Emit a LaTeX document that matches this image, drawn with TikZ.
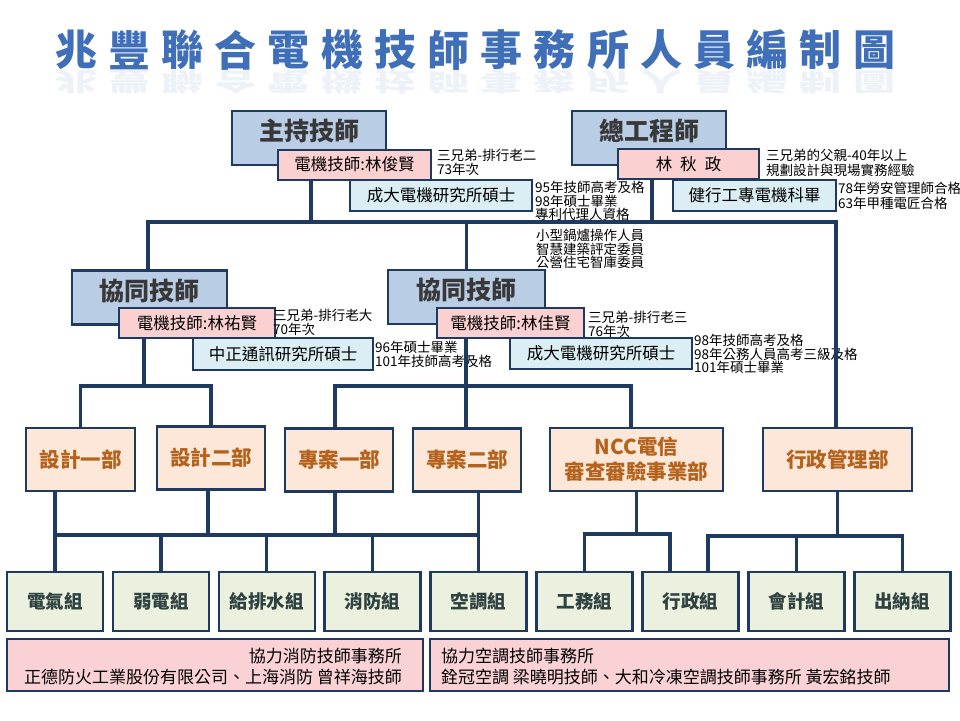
\documentclass[tikz,border=0pt]{standalone}
\usepackage{fontspec}
\setmainfont{Noto Sans CJK TC}
\definecolor{navy}{HTML}{1F3A60}
\definecolor{headfill}{HTML}{B9CDE5}
\definecolor{headtext}{HTML}{383838}
\definecolor{namefill}{HTML}{FAD0D0}
\definecolor{edufill}{HTML}{DAEEF3}
\definecolor{deptfill}{HTML}{FDE7D8}
\definecolor{depttext}{HTML}{B4621C}
\definecolor{grpfill}{HTML}{EBF1DE}
\definecolor{grptext}{HTML}{2F4242}
\definecolor{allyfill}{HTML}{FAD2D6}
\definecolor{titleblue}{HTML}{3F6FB8}
\begin{document}
\begin{tikzpicture}[x=1pt,y=-1pt,
  link/.style={draw=navy,line width=3.2pt,line join=miter},
  headbox/.style={draw=navy,line width=2.8pt,fill=headfill,text=headtext,
    font=\bfseries\fontsize{25}{28}\selectfont,minimum width=154pt,minimum height=54pt,
    inner sep=0pt,text height=18pt,text depth=13pt},
  namebox/.style={draw=navy,line width=2pt,fill=namefill,
    font=\fontsize{16.5}{18}\selectfont,minimum height=30pt,inner sep=0pt},
  edubox/.style={draw=navy,line width=2pt,fill=edufill,
    font=\fontsize{16.5}{18}\selectfont,minimum height=31pt,inner sep=0pt},
  notetext/.style={anchor=north west,align=left,inner sep=0pt,
    font=\fontsize{13.5}{13.5}\selectfont},
  dept/.style={draw=navy,line width=2.6pt,fill=deptfill,text=depttext,
    font=\bfseries\fontsize{20.5}{25}\selectfont,minimum height=63pt,inner sep=0pt,align=center},
  grp/.style={draw=navy,line width=2.6pt,fill=grpfill,text=grptext,
    font=\bfseries\fontsize{18.5}{20}\selectfont,minimum width=96pt,minimum height=59pt,inner sep=0pt},
  ally/.style={draw=navy,line width=2.2pt,fill=allyfill,minimum height=52pt,inner sep=0pt},
  allytext/.style={inner sep=0pt,font=\fontsize{17}{21}\selectfont}]
  \useasboundingbox[fill=white] (0,0) rectangle (960,720);

  % Title
  \foreach \ch [count=\i from 0] in {兆,豐,聯,合,電,機,技,師,事,務,所,人,員,編,制,圖}{
    \node[text=titleblue,font=\bfseries\fontsize{42}{42}\selectfont,inner sep=0pt]
      (title\i) at (76+53.2*\i,50) {\ch};
    \node[text=titleblue,opacity=.09,font=\bfseries\fontsize{42}{42}\selectfont,inner sep=0pt]
      (mirror\i) at (76+53.2*\i,82) {\scalebox{1}[-0.6]{\ch}};
  }

  % Top level
  \node[headbox] (chief) at (309,138) {主持技師};
  \node[headbox] (cheng) at (649,138) {總工程師};
  \node[namebox,minimum width=153pt] (jun) at (354.5,164.5) {電機技師:林俊賢};
  \node[namebox,minimum width=141pt] (qiu) at (688.5,164) {林\hspace{8pt}秋\hspace{8pt}政};
  \node[edubox,minimum width=182pt] (edu1) at (441,195) {成大電機研究所碩士};
  \node[edubox,minimum width=163pt] (edu2) at (754.5,195) {健行工專電機科畢};
  \node[notetext] (n1) at (437,149) {三兄弟-排行老二\\73年次};
  \node[notetext] (n2) at (535,181) {95年技師高考及格\\98年碩士畢業\\專利代理人資格};
  \node[notetext] (n3) at (536,229) {小型鍋爐操作人員\\智慧建築評定委員\\公營住宅智庫委員};
  \node[notetext,font=\fontsize{13.5}{15}\selectfont] (n4) at (766,149) {三兄弟的父親-40年以上\\規劃設計與現場實務經驗};
  \node[notetext,font=\fontsize{13.5}{15}\selectfont] (n5) at (838,182) {78年勞安管理師合格\\63年甲種電匠合格};

  % Second level
  \node[headbox,minimum width=155pt] (cot1) at (149.5,297.5) {協同技師};
  \node[headbox,minimum width=157pt] (cot2) at (466.5,297) {協同技師};
  \node[namebox,minimum width=156pt] (you) at (197,323) {電機技師:林祐賢};
  \node[namebox,minimum width=147pt] (jia) at (510.5,323) {電機技師:林佳賢};
  \node[edubox,minimum width=180pt,minimum height=32pt] (edu3) at (283,354) {中正通訊研究所碩士};
  \node[edubox,minimum width=182pt] (edu4) at (601,353.5) {成大電機研究所碩士};
  \node[notetext] (n6) at (273,309) {三兄弟-排行老大\\70年次};
  \node[notetext] (n7) at (375,341) {96年碩士畢業\\101年技師高考及格};
  \node[notetext] (n8) at (588,311) {三兄弟-排行老三\\76年次};
  \node[notetext] (n9) at (694,334) {98年技師高考及格\\98年公務人員高考三級及格\\101年碩士畢業};

  % Departments
  \node[dept,minimum width=109pt] (d1) at (80.5,459.5) {設計一部};
  \node[dept,minimum width=108pt] (d2) at (211,458) {設計二部};
  \node[dept,minimum width=108pt] (d3) at (339,460) {專案一部};
  \node[dept,minimum width=108pt] (d4) at (467,460) {專案二部};
  \node[dept,minimum width=173pt] (d5) at (636.5,459.5) {NCC電信\\審查審驗事業部};
  \node[dept,minimum width=149pt] (d6) at (837.5,459.5) {行政管理部};

  % Groups
  \foreach \lab [count=\i] in {電氣組,弱電組,給排水組,消防組,空調組,工務組,行政組,會計組,出納組}{
    \node[grp] (g\i) at (55+105.9*\i-105.9,601.5) {\lab};
  }

  % Partner offices
  \node[ally,minimum width=416pt] (allyL) at (215,665) {};
  \node[ally,minimum width=519pt] (allyR) at (689.5,665) {};
  \node[allytext,anchor=north east,align=right] (allyLtext) at ([xshift=-22pt,yshift=-10pt]allyL.north east)
    {協力消防技師事務所\\正德防火工業股份有限公司、上海消防 曾祥海技師};
  \node[allytext,anchor=north west,align=left] (allyRtext) at ([xshift=12pt,yshift=-10pt]allyR.north west)
    {協力空調技師事務所\\銓冠空調 梁曉明技師、大和冷凍空調技師事務所 黃宏銘技師};

  % Connectors: top
  \coordinate (tbL) at (148,222);
  \coordinate (tbR) at (836,222);
  \draw[link] (tbL |- cot1.north) -- (tbL) -- (tbR) -- (tbR |- d6.north);
  \draw[link] (cot2.north) -- (cot2.north |- tbL);
  \draw[link] ([xshift=-43.5pt]jun.south) -- ([xshift=-43.5pt]jun.south |- tbL);
  \draw[link] ([xshift=-36.5pt]qiu.south) -- ([xshift=-36.5pt]qiu.south |- tbL);

  % Connectors: middle
  \coordinate (mb) at (0,386);
  \draw[link] ([xshift=-53pt]you.south) -- ([xshift=-53pt]you.south |- mb);
  \draw[link] (d1.north) -- (d1.north |- mb) -- (d2.north |- mb) -- (d2.north);
  \draw[link] ([xshift=-44.5pt]jia.south) -- ([xshift=-44.5pt]jia.south |- d4.north);
  \draw[link] ([xshift=-4pt]d3.north) -- ([xshift=-4pt]d3.north |- mb)
    -- ([xshift=-5.5pt]d5.north |- mb) -- ([xshift=-5.5pt]d5.north);

  % Connectors: bottom
  \coordinate (lb) at (0,535);
  \draw[link] (d1.south -| g1.north) -- (g1.north);
  \draw[link] (d4.south -| g5.north) -- (g5.north);
  \draw[link] (g1.north |- lb) -- (g5.north |- lb);
  \foreach \i in {2,3,4}{
    \draw[link] (g\i.north) -- (g\i.north |- lb);
  }
  \draw[link] ([xshift=-3pt]d2.south) -- ([xshift=-3pt]d2.south |- lb);
  \draw[link] ([xshift=-4pt]d3.south) -- ([xshift=-4pt]d3.south |- lb);
  \coordinate (nb) at (0,534);
  \draw[link] (d5.south) -- (d5.south |- nb);
  \draw[link] (g6.north) -- (g6.north |- nb) -- ([xshift=-20.5pt]g7.north |- nb) -- ([xshift=-20.5pt]g7.north);
  \coordinate (ab) at (0,536);
  \draw[link] (d6.south) -- (d6.south |- ab);
  \draw[link] ([xshift=17.5pt]g7.north) -- ([xshift=17.5pt]g7.north |- ab) -- (g9.north |- ab) -- (g9.north);
  \draw[link] (g8.north) -- (g8.north |- ab);
\end{tikzpicture}
\end{document}
